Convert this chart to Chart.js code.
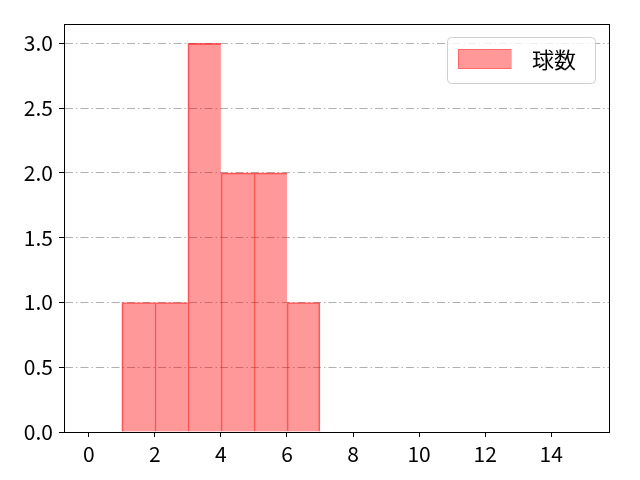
<!DOCTYPE html>
<html>
<head>
<meta charset="utf-8">
<script src="https://cdn.jsdelivr.net/npm/chart.js@4/dist/chart.umd.min.js"></script>
<style>
  html, body { margin: 0; padding: 0; background: #fff; }
  #wrap { width: 640px; height: 480px; }
</style>
</head>
<body>
<div id="wrap"><canvas id="chart" width="640" height="480"></canvas></div>
<script>
// histogram bins (left edge, width 1) and counts
const binStarts = [1, 2, 3, 4, 5, 6];
const counts = [1, 1, 3, 2, 2, 1];
const xTicks = [0, 2, 4, 6, 8, 10, 12, 14];
const yTicks = [0, 0.5, 1.0, 1.5, 2.0, 2.5, 3.0];
const seriesLabel = '球数';

const FONT = '"Noto Sans CJK JP", "Noto Sans", sans-serif';

const points = binStarts.map((s, i) => ({ x: s + 0.5, y: counts[i] }));
const lastBin = points.length - 1;

// frame + legend drawn on top
const framePlugin = {
    id: 'frame',
    afterDraw(chart) {
        const { ctx, chartArea: a } = chart;
        ctx.save();
        ctx.strokeStyle = '#000';
        ctx.lineWidth = 1;
        ctx.strokeRect(a.left + 0.5, a.top + 0.5, a.right - a.left, a.bottom - a.top);

        // legend box top right
        const bx = 447, by = 37, bw = 148, bh = 46;
        ctx.beginPath();
        ctx.roundRect(bx + 0.5, by + 0.5, bw, bh, 4);
        ctx.fillStyle = 'rgba(255,255,255,0.8)';
        ctx.fill();
        ctx.strokeStyle = '#d0d0d0';
        ctx.stroke();
        ctx.fillStyle = 'rgba(255,0,0,0.4)';
        ctx.fillRect(458, 49, 53, 20);
        ctx.strokeStyle = 'rgba(255,0,0,0.3)';
        ctx.strokeRect(458.5, 49.5, 53, 19);
        ctx.fillStyle = '#000';
        ctx.font = '22px ' + FONT;
        ctx.textBaseline = 'middle';
        ctx.fillText(seriesLabel, 532, 60);
        ctx.restore();
    }
};

new Chart(document.getElementById('chart'), {
    type: 'bar',
    data: {
        datasets: [{
            label: seriesLabel,
            data: points,
            backgroundColor: 'rgba(255,0,0,0.4)',
            borderColor: 'rgba(255,0,0,0.6)',
            borderWidth: c => ({ top: 1, left: 1, right: c.dataIndex === lastBin ? 1 : 0, bottom: 0 }),
            borderSkipped: false,
            barPercentage: 1.0,
            categoryPercentage: 1.0
        }]
    },
    options: {
        responsive: false,
        animation: false,
        layout: { padding: { top: 24, right: 31, left: 0, bottom: 0 } },
        plugins: {
            legend: { display: false },
            tooltip: { enabled: false }
        },
        scales: {
            x: {
                type: 'linear',
                offset: false,
                min: -0.75,
                max: 15.75,
                afterBuildTicks: scale => { scale.ticks = xTicks.map(v => ({ value: v })); },
                afterFit: scale => { scale.height = 48; },
                grid: { display: true, offset: false, drawOnChartArea: false, drawTicks: true, tickLength: 5, tickColor: '#000' },
                border: { display: true, color: '#000', width: 1 },
                ticks: {
                    color: '#000',
                    padding: 4,
                    maxRotation: 0,
                    font: { family: FONT, size: 21 },
                    callback: v => String(v)
                }
            },
            y: {
                z: 1,
                min: 0,
                max: 3.15,
                afterBuildTicks: scale => { scale.ticks = yTicks.map(v => ({ value: v })); },
                afterFit: scale => { scale.width = 64; },
                grid: {
                    display: true,
                    color: '#b0b0b0',
                    lineWidth: 1,
                    drawTicks: true,
                    tickLength: 5,
                    tickColor: '#000',
                    tickBorderDash: []
                },
                border: { display: true, color: '#000', width: 1, dash: [8, 3, 1.5, 3] },
                ticks: {
                    color: '#000',
                    padding: 6,
                    font: { family: FONT, size: 21 },
                    callback: v => v.toFixed(1)
                }
            }
        }
    },
    plugins: [framePlugin]
});
</script>
</body>
</html>
